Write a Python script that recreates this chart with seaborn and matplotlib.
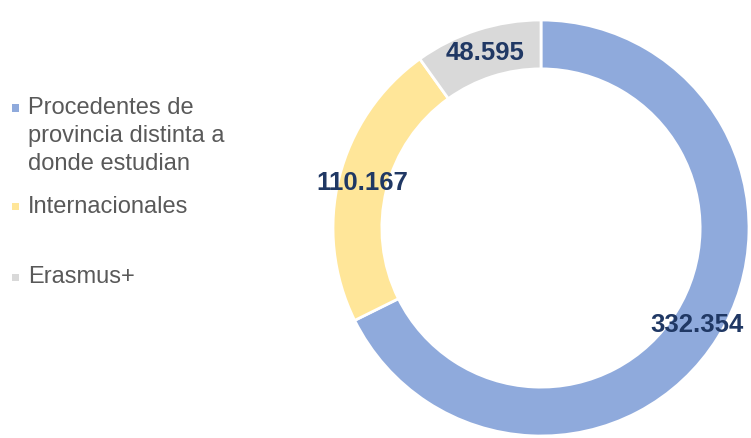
import matplotlib
matplotlib.use("Agg")
import matplotlib.pyplot as plt
import seaborn as sns
import numpy as np
from matplotlib.patches import Rectangle

# Data
categories = ["Procedentes de\nprovincia distinta a\ndonde estudian",
              "Internacionales",
              "Erasmus+"]
values = [332354, 110167, 48595]
value_labels = ["332.354", "110.167", "48.595"]
colors = ["#8FAADC", "#FFE699", "#D9D9D9"]

sns.set_theme(style="white")
plt.rcParams['font.family'] = ['Liberation Sans', 'DejaVu Sans']

fig = plt.figure(figsize=(7.51, 4.38), dpi=100)

# Donut
ax = fig.add_axes([333 / 751, 2 / 438, 416 / 751, 416 / 438])
wedges, _ = ax.pie(values, colors=colors, startangle=90, counterclock=False,
                   wedgeprops=dict(width=0.235, edgecolor='white', linewidth=2))
ax.set_xlim(-1, 1)
ax.set_ylim(-1, 1)
ax.set_aspect('equal')

# Value labels in the middle of the ring
total = sum(values)
start = 90.0
for val, lab in zip(values, value_labels):
    span = 360.0 * val / total
    mid = np.deg2rad(start - span / 2)
    r = 0.885
    ax.text(r * np.cos(mid), r * np.sin(mid), lab, ha='center', va='center',
            fontsize=18.5, fontweight='bold', color='#203864')
    start -= span

# Legend drawn by hand (Excel-like spacing)
legend_y = [136, 207, 277]      # centre of each text block, px from top
marker_y = [108, 206, 277]      # centre of each marker, px from top
for cat, col, ty, my in zip(categories, colors, legend_y, marker_y):
    fig.text(28 / 751, 1 - ty / 438, cat, ha='left', va='center',
             fontsize=17, color='#595959', linespacing=1.38)
    fig.patches.append(Rectangle((12 / 751, 1 - (my + 3.5) / 438), 7 / 751, 7 / 438,
                                 transform=fig.transFigure, facecolor=col,
                                 edgecolor='none'))

fig.savefig("out.png", dpi=100)
